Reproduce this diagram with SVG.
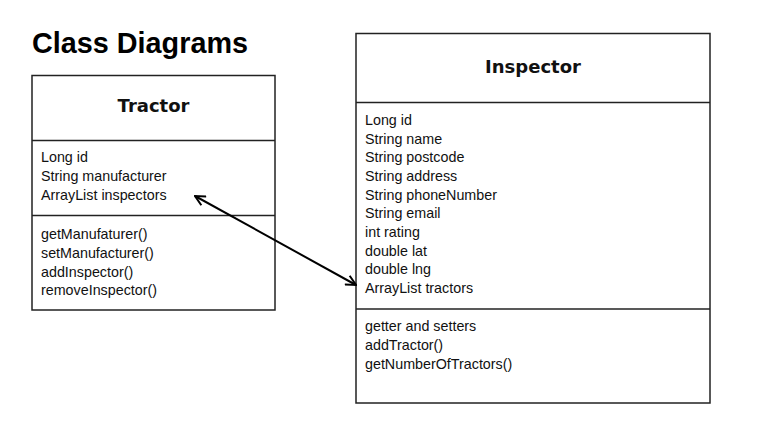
<svg xmlns="http://www.w3.org/2000/svg" width="766" height="432" viewBox="0 0 766 432">
<defs>
<style>
.box{fill:#fff;stroke:#222;stroke-width:1.5}
.div{stroke:#222;stroke-width:1.5}
.hd{font-family:"DejaVu Sans",sans-serif;font-weight:bold;font-size:18px;fill:#111;text-anchor:middle}
.tx{font-family:"Liberation Sans",Arial,sans-serif;font-size:14.3px;fill:#111}
.title{font-family:"Liberation Sans",Arial,sans-serif;font-weight:bold;font-size:30px;fill:#000}
.conn{stroke:#000;stroke-width:2;fill:none}
</style>
<marker id="arr" viewBox="0 0 12 12" refX="11" refY="6" markerWidth="12" markerHeight="12" markerUnits="userSpaceOnUse" orient="auto-start-reverse">
<path d="M1,1 L11,6 L1,11" fill="none" stroke="#000" stroke-width="2"/>
</marker>
</defs>
<rect width="766" height="432" fill="#fff"/>
<text class="title" x="32" y="53" textLength="216" lengthAdjust="spacingAndGlyphs">Class Diagrams</text>
<g id="tractor">
<rect class="box" x="32" y="75.5" width="243" height="234.5"/>
<line class="div" x1="32" y1="140.5" x2="275" y2="140.5"/>
<line class="div" x1="32" y1="215.5" x2="275" y2="215.5"/>
<text class="hd" x="153.5" y="112">Tractor</text>
<text class="tx" x="41" y="162">Long id</text>
<text class="tx" x="41" y="181">String manufacturer</text>
<text class="tx" x="41" y="200">ArrayList inspectors</text>
<text class="tx" x="41" y="239">getManufaturer()</text>
<text class="tx" x="41" y="258">setManufacturer()</text>
<text class="tx" x="41" y="276.5">addInspector()</text>
<text class="tx" x="41" y="295">removeInspector()</text>
</g>
<g id="inspector">
<rect class="box" x="356" y="33.5" width="354" height="369.5"/>
<line class="div" x1="356" y1="102.5" x2="710" y2="102.5"/>
<line class="div" x1="356" y1="309" x2="710" y2="309"/>
<text class="hd" x="533" y="73">Inspector</text>
<text class="tx" x="365" y="125">Long id</text>
<text class="tx" x="365" y="143.7">String name</text>
<text class="tx" x="365" y="162.4">String postcode</text>
<text class="tx" x="365" y="181">String address</text>
<text class="tx" x="365" y="199.7">String phoneNumber</text>
<text class="tx" x="365" y="218.4">String email</text>
<text class="tx" x="365" y="237">int rating</text>
<text class="tx" x="365" y="255.7">double lat</text>
<text class="tx" x="365" y="274.4">double lng</text>
<text class="tx" x="365" y="293">ArrayList tractors</text>
<text class="tx" x="365" y="331">getter and setters</text>
<text class="tx" x="365" y="350">addTractor()</text>
<text class="tx" x="365" y="369">getNumberOfTractors()</text>
</g>
<g id="connectors">
<line class="conn" x1="195" y1="196" x2="356" y2="285" marker-start="url(#arr)" marker-end="url(#arr)"/>
</g>
</svg>
